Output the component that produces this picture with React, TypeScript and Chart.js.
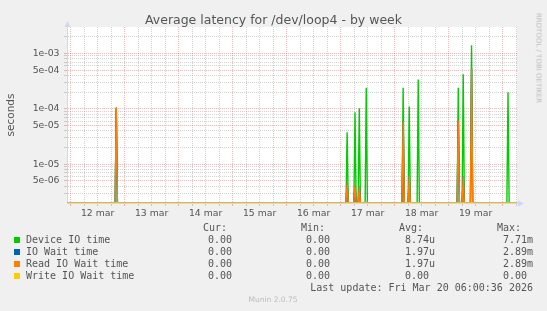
import React, { useEffect, useRef } from 'react';
import { Chart, registerables } from 'chart.js';

Chart.register(...registerables);

// ---- data ----
const seriesNames = ['Device IO time', 'IO Wait time', 'Read IO Wait time', 'Write IO Wait time'];
const seriesColors = ['#00CC00', '#0066B3', '#FF8000', '#FFCC00'];

// hours since 12 mar 00:00 of each non-zero sample (all other samples are 0)
const spikeHours = [20.3, 122.9, 126.4, 128.3, 131.4, 147.8, 150.5, 154.5, 172.3, 174.5, 178.2, 194.4];
const deviceIO = [1.0e-4, 3.8e-5, 8.7e-5, 1.03e-4, 2.4e-4, 2.4e-4, 1.1e-4, 3.4e-4, 2.4e-4, 4.2e-4, 1.4e-3, 2.0e-4];
const ioWait = [1.06e-4, 4.6e-6, 4.2e-6, 4.0e-6, 0, 5.9e-5, 6.2e-6, 0, 6.1e-5, 6.0e-6, 5.4e-4, 0];
const readIOWait = [1.06e-4, 4.6e-6, 4.2e-6, 4.0e-6, 0, 5.9e-5, 6.2e-6, 0, 6.1e-5, 6.0e-6, 5.4e-4, 0];
const writeIOWait = [0, 0, 0, 0, 0, 0, 0, 0, 0, 0, 0, 0];
const seriesValues = [deviceIO, ioWait, readIOWait, writeIOWait];

const dayLabels = ['12 mar', '13 mar', '14 mar', '15 mar', '16 mar', '17 mar', '18 mar', '19 mar'];

const legendHeaders = ['Cur:', 'Min:', 'Avg:', 'Max:'];
const legendCur = ['0.00 ', '0.00 ', '0.00 ', '0.00 '];
const legendMin = ['0.00 ', '0.00 ', '0.00 ', '0.00 '];
const legendAvg = ['8.74u', '1.97u', '1.97u', '0.00 '];
const legendMax = ['7.71m', '2.89m', '2.89m', '0.00 '];
const lastUpdate = 'Last update: Fri Mar 20 06:00:36 2026';

// ---- axis ranges ----
const X_MIN = -1.6;
const X_MAX = 198.4;
const STEP = 0.5; // sample step in hours
const Y_MIN = 2e-6;
const Y_MAX = 3e-3;

const AXIS = '#CFD6F8';
const GRID = 'rgba(143,143,143,0.4)';
const MGRID = 'rgba(233,90,90,0.42)';
const TXT = '#555555';

function buildPoints(values: number[]) {
  const pts: { x: number; y: number }[] = [{ x: X_MIN, y: 0 }];
  spikeHours.forEach((t, i) => {
    pts.push({ x: t - STEP, y: 0 }, { x: t, y: values[i] }, { x: t + STEP, y: 0 });
  });
  pts.push({ x: X_MAX, y: 0 });
  // values below the axis minimum are drawn on the bottom edge (as rrdtool does)
  return pts.map((p) => ({ x: p.x, y: Math.max(p.y, Y_MIN) }));
}

const xTickHours: number[] = [];
for (let h = 0; h <= X_MAX; h += 6) xTickHours.push(h);

const yTickValues: number[] = [];
for (let e = -6; e <= -3; e++) {
  for (let m = 1; m <= 9; m++) {
    const v = parseFloat(`${m}e${e}`);
    if (v > Y_MIN * 1.001 && v < Y_MAX) yTickValues.push(v);
  }
}

function mant(v: number) {
  const e = Math.floor(Math.log10(v) + 1e-9);
  return { m: Math.round(v / Math.pow(10, e)), e };
}

const arrowPlugin = {
  id: 'rrdDecor',
  beforeDraw(chart: any) {
    const { ctx, chartArea: a } = chart;
    ctx.save();
    ctx.fillStyle = '#F0F0F0';
    ctx.fillRect(0, 0, chart.width, chart.height);
    ctx.fillStyle = '#FFFFFF';
    ctx.fillRect(a.left, a.top, a.right - a.left, a.bottom - a.top);
    ctx.restore();
  },
  afterDraw(chart: any) {
    const { ctx, chartArea: a } = chart;
    ctx.save();
    ctx.strokeStyle = AXIS;
    ctx.fillStyle = AXIS;
    ctx.lineWidth = 1;
    const lx = Math.round(a.left) + 0.5;
    const by = Math.round(a.bottom) + 0.5;
    ctx.beginPath();
    ctx.moveTo(lx, a.top);
    ctx.lineTo(lx, a.top - 3);
    ctx.moveTo(a.right, by);
    ctx.lineTo(a.right + 3, by);
    ctx.stroke();
    ctx.beginPath();
    ctx.moveTo(lx, a.top - 6);
    ctx.lineTo(lx - 3, a.top);
    ctx.lineTo(lx + 3, a.top);
    ctx.closePath();
    ctx.fill();
    ctx.beginPath();
    ctx.moveTo(a.right + 7, by);
    ctx.lineTo(a.right + 1, by - 3);
    ctx.lineTo(a.right + 1, by + 3);
    ctx.closePath();
    ctx.fill();
    ctx.restore();
  },
};

type TProps = {
  x: number;
  y: number;
  text: string;
  align?: 'left' | 'right' | 'center';
  size?: number;
  color?: string;
  mono?: boolean;
  rotate?: number;
};

function T({ x, y, text, align = 'left', size = 10, color = TXT, mono = false, rotate = 0 }: TProps) {
  const tx = align === 'left' ? '0' : align === 'right' ? '-100%' : '-50%';
  const style: React.CSSProperties = {
    position: 'absolute',
    left: x,
    top: y,
    transform: `translate(${tx}, -50%)` + (rotate ? ` rotate(${rotate}deg)` : ''),
    transformOrigin: align === 'center' ? '50% 50%' : undefined,
    fontFamily: mono ? '"DejaVu Sans Mono", monospace' : '"DejaVu Sans", sans-serif',
    fontSize: size,
    fontWeight: 'normal',
    lineHeight: `${size}px`,
    color,
    whiteSpace: 'pre',
  };
  return <div style={style}>{text}</div>;
}

export default function App() {
  const ref = useRef<HTMLCanvasElement>(null);

  useEffect(() => {
    document.body.style.margin = '0';
    document.body.style.background = '#F0F0F0';
    const canvas = ref.current;
    if (!canvas) return;
    const chart = new Chart(canvas, {
      type: 'line',
      data: {
        datasets: seriesNames.map((name, i) => ({
          label: name,
          data: buildPoints(seriesValues[i]),
          borderColor: seriesColors[i],
          backgroundColor: seriesColors[i],
          borderWidth: 1.4,
          pointRadius: 0,
          pointHoverRadius: 0,
          fill: false,
          tension: 0,
          order: 4 - i,
        })),
      },
      options: {
        animation: false,
        responsive: false,
        devicePixelRatio: 1,
        events: [],
        layout: { autoPadding: false, padding: { left: 0, right: 30, top: 27, bottom: 0 } },
        plugins: {
          legend: { display: false },
          title: { display: false },
          tooltip: { enabled: false },
        },
        scales: {
          x: {
            type: 'linear',
            min: X_MIN,
            max: X_MAX,
            afterFit: (s: any) => {
              s.height = 108;
            },
            afterBuildTicks: (s: any) => {
              s.ticks = xTickHours.map((v) => ({ value: v }));
            },
            ticks: {
              autoSkip: false,
              maxRotation: 0,
              minRotation: 0,
              padding: 2,
              color: TXT,
              font: { family: 'DejaVu Sans', size: 9.3 },
              callback: (v: any) => {
                const h = Number(v);
                return h % 24 === 12 ? dayLabels[(h - 12) / 24] : '';
              },
            },
            grid: {
              color: (c: any) => (c.tick && c.tick.value % 24 === 0 ? MGRID : GRID),
              lineWidth: 1,
              drawTicks: true,
              tickLength: 3,
            },
            border: { color: AXIS, width: 1, dash: [1, 1] },
          },
          y: {
            type: 'logarithmic',
            min: Y_MIN,
            max: Y_MAX,
            afterFit: (s: any) => {
              s.width = 67;
            },
            afterBuildTicks: (s: any) => {
              s.ticks = yTickValues.map((v) => ({ value: v }));
            },
            title: {
              display: true,
              text: 'seconds',
              color: TXT,
              font: { family: 'DejaVu Sans', size: 10.5, lineHeight: 1.2 },
              padding: { top: 5.2, bottom: 0 },
            },
            ticks: {
              autoSkip: false,
              padding: 4.5,
              color: TXT,
              font: { family: 'DejaVu Sans', size: 9.3 },
              callback: (v: any) => {
                const { m, e } = mant(Number(v));
                if (m === 1 || m === 5) return `${m}e-${String(-e).padStart(2, '0')}`;
                return '';
              },
            },
            grid: {
              color: (c: any) => {
                if (!c.tick) return GRID;
                const { m } = mant(c.tick.value);
                return m === 1 || m === 5 ? MGRID : GRID;
              },
              lineWidth: 1,
              drawTicks: true,
              tickLength: 3,
            },
            border: { color: AXIS, width: 1, dash: [1, 1] },
          },
        },
      },
      plugins: [arrowPlugin],
    } as any);
    return () => chart.destroy();
  }, []);

  const colRight = [238, 336, 435, 533];
  const headLeft = [203, 301, 399, 497];
  const cols = [legendCur, legendMin, legendAvg, legendMax];

  return (
    <div style={{ position: 'fixed', left: 0, top: 0, width: 547, height: 311, background: '#F0F0F0', overflow: 'hidden' }}>
      <canvas ref={ref} width={547} height={311} style={{ position: 'absolute', left: 0, top: 0, width: 547, height: 311 }} />
      <T x={273.5} y={20} text="Average latency for /dev/loop4 - by week" align="center" size={12.5} color="#555" />
      <T x={537.5} y={58} text="RRDTOOL / TOBI OETIKER" align="center" size={7} color="#bbbbbb" rotate={90} />
      {legendHeaders.map((h, i) => (
        <T key={'h' + i} x={headLeft[i]} y={228} text={h} mono />
      ))}
      {seriesNames.map((name, r) => (
        <React.Fragment key={'r' + r}>
          <div
            style={{
              position: 'absolute',
              left: 14,
              top: 237 + 12 * r,
              width: 6,
              height: 6,
              background: seriesColors[r],
            }}
          />
          <T x={26} y={240 + 12 * r} text={name} mono />
          {cols.map((col, c) => (
            <T key={'c' + c} x={colRight[c]} y={240 + 12 * r} text={col[r]} align="right" mono />
          ))}
        </React.Fragment>
      ))}
      <T x={533} y={288} text={lastUpdate} align="right" mono />
      <T x={273} y={300} text="Munin 2.0.75" align="center" size={7.5} color="#bbbbbb" />
    </div>
  );
}
